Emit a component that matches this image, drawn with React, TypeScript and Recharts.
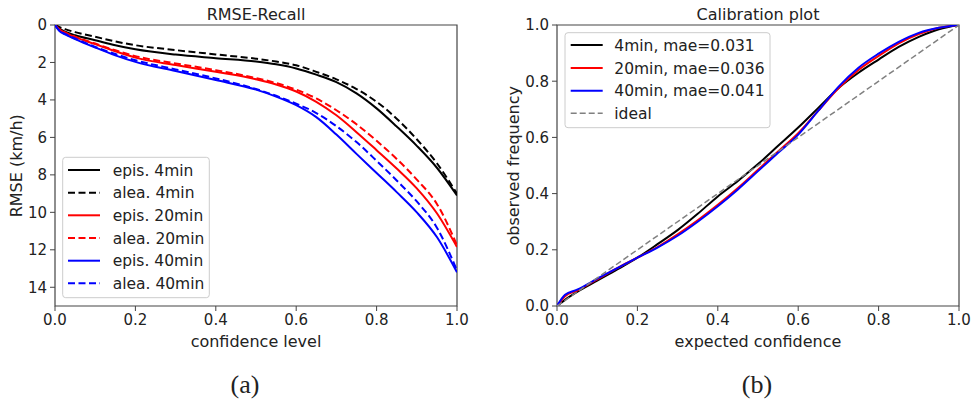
import React from 'react';
import { LineChart, Line, XAxis, YAxis, ReferenceArea } from 'recharts';

// ---------- Data: RMSE-Recall ----------
const confLevels = [0, 0.01, 0.025, 0.05, 0.1, 0.15, 0.2, 0.3, 0.4, 0.5, 0.55, 0.6, 0.65, 0.7, 0.75, 0.8, 0.85, 0.9, 0.95, 1.0];
const episRmse4 = [0, 0.18, 0.35, 0.55, 0.81, 1.08, 1.3, 1.58, 1.77, 1.95, 2.1, 2.32, 2.65, 3.05, 3.65, 4.45, 5.42, 6.45, 7.62, 9.1];
const aleaRmse4 = [0, 0.1, 0.22, 0.38, 0.63, 0.88, 1.08, 1.34, 1.57, 1.8, 1.95, 2.15, 2.5, 2.9, 3.42, 4.1, 5.0, 6.1, 7.38, 9.0];
const episRmse20 = [0, 0.22, 0.42, 0.65, 1.02, 1.4, 1.74, 2.14, 2.5, 2.9, 3.18, 3.55, 4.1, 4.82, 5.72, 6.68, 7.66, 8.72, 10.05, 11.85];
const aleaRmse20 = [0, 0.2, 0.4, 0.62, 0.99, 1.35, 1.66, 2.05, 2.41, 2.83, 3.1, 3.45, 3.92, 4.55, 5.3, 6.18, 7.15, 8.25, 9.55, 11.75];
const episRmse40 = [0, 0.3, 0.5, 0.75, 1.2, 1.62, 1.97, 2.46, 2.94, 3.45, 3.82, 4.28, 4.92, 5.85, 6.88, 7.9, 8.92, 10.0, 11.32, 13.2];
const aleaRmse40 = [0, 0.28, 0.48, 0.72, 1.17, 1.55, 1.88, 2.37, 2.85, 3.42, 3.78, 4.2, 4.7, 5.4, 6.25, 7.25, 8.3, 9.42, 10.82, 13.1];

// ---------- Data: Calibration ----------
const expectedConf = [0, 0.02, 0.05, 0.1, 0.15, 0.2, 0.25, 0.3, 0.35, 0.4, 0.45, 0.5, 0.55, 0.6, 0.65, 0.7, 0.75, 0.8, 0.85, 0.9, 0.95, 1.0];
const observed4 = [0, 0.022, 0.05, 0.09, 0.13, 0.172, 0.22, 0.27, 0.328, 0.39, 0.445, 0.505, 0.57, 0.635, 0.705, 0.775, 0.83, 0.877, 0.922, 0.958, 0.985, 1.0];
const observed20 = [0, 0.035, 0.055, 0.095, 0.135, 0.172, 0.21, 0.255, 0.305, 0.36, 0.42, 0.485, 0.55, 0.615, 0.695, 0.775, 0.84, 0.89, 0.935, 0.968, 0.99, 1.0];
const observed40 = [0, 0.04, 0.058, 0.097, 0.135, 0.172, 0.208, 0.25, 0.3, 0.355, 0.415, 0.48, 0.545, 0.61, 0.695, 0.78, 0.848, 0.898, 0.94, 0.972, 0.99, 1.0];
const idealX = [0, 1];
const idealY = [0, 1];

// ---------- Ticks / labels ----------
const xTicks = [0, 0.2, 0.4, 0.6, 0.8, 1.0];
const rmseTicks = [0, 2, 4, 6, 8, 10, 12, 14];
const freqTicks = [0, 0.2, 0.4, 0.6, 0.8, 1.0];

const leftSeriesNames = ['epis. 4min', 'alea. 4min', 'epis. 20min', 'alea. 20min', 'epis. 40min', 'alea. 40min'];
const rightSeriesNames = ['4min, mae=0.031', '20min, mae=0.036', '40min, mae=0.041', 'ideal'];

const zip = (xs: number[], ys: number[]) => xs.map((x, i) => ({ x, y: ys[i] }));

const leftSeries = [
  { name: leftSeriesNames[0], data: zip(confLevels, episRmse4), color: '#000000', dash: undefined as string | undefined },
  { name: leftSeriesNames[1], data: zip(confLevels, aleaRmse4), color: '#000000', dash: '7 3.5' },
  { name: leftSeriesNames[2], data: zip(confLevels, episRmse20), color: '#ff0000', dash: undefined },
  { name: leftSeriesNames[3], data: zip(confLevels, aleaRmse20), color: '#ff0000', dash: '7 3.5' },
  { name: leftSeriesNames[4], data: zip(confLevels, episRmse40), color: '#0000ff', dash: undefined },
  { name: leftSeriesNames[5], data: zip(confLevels, aleaRmse40), color: '#0000ff', dash: '7 3.5' },
];

const rightSeries = [
  { name: rightSeriesNames[0], data: zip(expectedConf, observed4), color: '#000000', dash: undefined as string | undefined, width: 2 },
  { name: rightSeriesNames[1], data: zip(expectedConf, observed20), color: '#ff0000', dash: undefined, width: 2 },
  { name: rightSeriesNames[2], data: zip(expectedConf, observed40), color: '#0000ff', dash: undefined, width: 2 },
  { name: rightSeriesNames[3], data: zip(idealX, idealY), color: '#808080', dash: '6 3', width: 1.5 },
];

const FONT = 'DejaVu Sans, sans-serif';
const SPINE = '#444';
const TICK_STYLE = { fontSize: 15, fill: '#222', fontFamily: FONT };

const fmt1 = (v: number) => v.toFixed(1);

const LegendBox = ({ x, y, w, h, rows, lineX1, lineX2, textX, items }: any) => (
  <g>
    <rect x={x} y={y} width={w} height={h} rx={3} ry={3} fill="#ffffff" fillOpacity={0.8} stroke="#cccccc" strokeWidth={1} />
    {items.map((it: any, i: number) => (
      <g key={it.name}>
        <line x1={lineX1} x2={lineX2} y1={rows[i]} y2={rows[i]} stroke={it.color} strokeWidth={it.width || 2} strokeDasharray={it.dash} />
        <text x={textX} y={rows[i] + 5.5} fontSize={15.5} fontFamily={FONT} fill="#222">{it.name}</text>
      </g>
    ))}
  </g>
);

export default function App() {
  return (
    <div style={{ position: 'absolute', left: 0, top: 0, width: 978, height: 404, background: '#fff', fontFamily: FONT }}>
      <div style={{ position: 'absolute', left: 0, top: 0 }}>
        <LineChart width={480} height={340} margin={{ top: 25, right: 23, bottom: 4, left: 5 }}>
          <XAxis
            type="number"
            dataKey="x"
            domain={[0, 1]}
            ticks={xTicks}
            interval={0}
            tickFormatter={fmt1}
            tick={TICK_STYLE}
            tickSize={5}
            tickMargin={3}
            height={30}
            axisLine={false}
            tickLine={{ stroke: SPINE }}
            allowDataOverflow
          />
          <YAxis
            type="number"
            dataKey="y"
            domain={[0, 15]}
            reversed
            ticks={rmseTicks}
            interval={0}
            tick={TICK_STYLE}
            tickSize={5}
            tickMargin={3}
            width={50}
            axisLine={false}
            tickLine={{ stroke: SPINE }}
            allowDataOverflow
          />
          {leftSeries.map((s) => (
            <Line
              key={s.name}
              data={s.data}
              dataKey="y"
              name={s.name}
              type="monotone"
              stroke={s.color}
              strokeWidth={2}
              strokeDasharray={s.dash}
              dot={false}
              activeDot={false}
              isAnimationActive={false}
            />
          ))}
          <ReferenceArea x1={0} x2={1} y1={0} y2={15} fill="none" fillOpacity={0} stroke={SPINE} strokeWidth={1.2} />
        </LineChart>
      </div>

      <div style={{ position: 'absolute', left: 490, top: 0 }}>
        <LineChart width={488} height={340} margin={{ top: 25, right: 19, bottom: 4, left: 12 }}>
          <XAxis
            type="number"
            dataKey="x"
            domain={[0, 1]}
            ticks={xTicks}
            interval={0}
            tickFormatter={fmt1}
            tick={TICK_STYLE}
            tickSize={5}
            tickMargin={3}
            height={30}
            axisLine={false}
            tickLine={{ stroke: SPINE }}
            allowDataOverflow
          />
          <YAxis
            type="number"
            dataKey="y"
            domain={[0, 1]}
            ticks={freqTicks}
            interval={0}
            tickFormatter={fmt1}
            tick={TICK_STYLE}
            tickSize={5}
            tickMargin={3}
            width={55}
            axisLine={false}
            tickLine={{ stroke: SPINE }}
            allowDataOverflow
          />
          {rightSeries.map((s) => (
            <Line
              key={s.name}
              data={s.data}
              dataKey="y"
              name={s.name}
              type={s.name === 'ideal' ? 'linear' : 'monotone'}
              stroke={s.color}
              strokeWidth={s.width}
              strokeDasharray={s.dash}
              dot={false}
              activeDot={false}
              isAnimationActive={false}
            />
          ))}
          <ReferenceArea x1={0} x2={1} y1={0} y2={1} fill="none" fillOpacity={0} stroke={SPINE} strokeWidth={1.2} />
        </LineChart>
      </div>

      <svg width={978} height={404} style={{ position: 'absolute', left: 0, top: 0, pointerEvents: 'none' }}>
        <text x={256} y={19.5} textAnchor="middle" fontSize={16} fontFamily={FONT} fill="#222">RMSE-Recall</text>
        <text x={758} y={19.5} textAnchor="middle" fontSize={16} fontFamily={FONT} fill="#222">Calibration plot</text>
        <text x={256} y={346.5} textAnchor="middle" fontSize={16} fontFamily={FONT} fill="#222">confidence level</text>
        <text x={758} y={346.5} textAnchor="middle" fontSize={16} fontFamily={FONT} fill="#222">expected confidence</text>
        <text transform="translate(21.5,165.8) rotate(-90)" textAnchor="middle" fontSize={16} fontFamily={FONT} fill="#222">RMSE (km/h)</text>
        <text transform="translate(519,165.8) rotate(-90)" textAnchor="middle" fontSize={16} fontFamily={FONT} fill="#222">observed frequency</text>
        <text x={245} y={393} textAnchor="middle" fontSize={26} fontFamily="Liberation Serif, serif" fill="#222">(a)</text>
        <text x={757} y={393} textAnchor="middle" fontSize={26} fontFamily="Liberation Serif, serif" fill="#222">(b)</text>
        <LegendBox
          x={62.7} y={157.3} w={146.6} h={140.4}
          rows={[170, 192.7, 215.3, 238, 260.7, 283.3]}
          lineX1={68} lineX2={100} textX={112.7}
          items={leftSeries}
        />
        <LegendBox
          x={565} y={32.7} w={205} h={95}
          rows={[45, 68, 90.7, 113.3]}
          lineX1={570.7} lineX2={602.7} textX={614.3}
          items={rightSeries}
        />
      </svg>
    </div>
  );
}
